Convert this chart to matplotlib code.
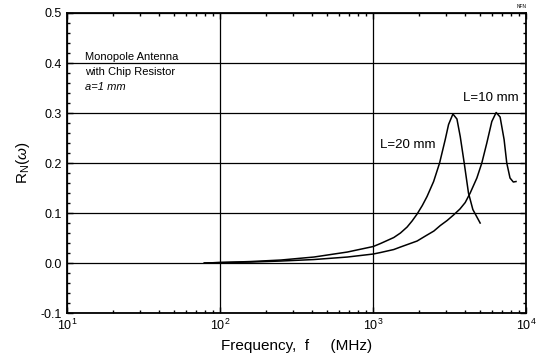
import matplotlib
matplotlib.use("Agg")
import matplotlib.pyplot as plt
from matplotlib.ticker import MultipleLocator, LogLocator, NullFormatter

plt.rcParams['font.family'] = ['Liberation Sans', 'DejaVu Sans']
plt.rcParams['mathtext.fontset'] = 'custom'
plt.rcParams['mathtext.rm'] = 'Liberation Sans'
plt.rcParams['mathtext.it'] = 'Liberation Sans:italic'

# Data (frequency in MHz, R_N)
f_L20 = [79, 100, 159, 250, 411, 680, 1003, 1119, 1367, 1511, 1671, 1800, 1942, 2100, 2255,
         2490, 2724, 2966, 3118, 3329, 3537, 3717, 3946, 4208, 4494, 5016]
r_L20 = [0.0, 0.001, 0.003, 0.006, 0.012, 0.022, 0.033, 0.039, 0.051, 0.060, 0.072, 0.084,
         0.098, 0.115, 0.133, 0.163, 0.200, 0.247, 0.277, 0.298, 0.288, 0.253, 0.200, 0.140,
         0.107, 0.080]

f_L10 = [79, 100, 159, 250, 411, 680, 1003, 1119, 1367, 1511, 1942, 2200, 2500, 2753, 3050,
         3358, 3700, 4006, 4317, 4774, 5143, 5545, 5978, 6381, 6772, 7192, 7487, 7863, 8264,
         8604]
r_L10 = [0.0, 0.001, 0.002, 0.004, 0.007, 0.012, 0.018, 0.021, 0.027, 0.032, 0.044, 0.054,
         0.064, 0.075, 0.085, 0.096, 0.108, 0.121, 0.140, 0.170, 0.200, 0.240, 0.283, 0.301,
         0.292, 0.247, 0.200, 0.170, 0.162, 0.163]

xlim = (10, 10000)
ylim = (-0.1, 0.5)
yticks = [-0.1, 0.0, 0.1, 0.2, 0.3, 0.4, 0.5]
ytick_labels = ['-0.1', '0.0', '0.1', '0.2', '0.3', '0.4', '0.5']
xticks = [10, 100, 1000, 10000]
xtick_labels = ['10$^1$', '10$^2$', '10$^3$', '10$^4$']

fig = plt.figure(figsize=(5.47, 3.64), dpi=100)
ax = fig.add_axes([0.1225, 0.14, 0.8391, 0.8243])

ax.plot(f_L20, r_L20, color='black', lw=1.1)
ax.plot(f_L10, r_L10, color='black', lw=1.1)

ax.set_xscale('log')
ax.set_xlim(*xlim)
ax.set_ylim(*ylim)
ax.set_xticks(xticks)
ax.set_xticklabels(xtick_labels)
ax.xaxis.set_minor_locator(LogLocator(base=10, subs=range(2, 10)))
ax.xaxis.set_minor_formatter(NullFormatter())
ax.set_yticks(yticks)
ax.set_yticklabels(ytick_labels)
ax.yaxis.set_minor_locator(MultipleLocator(0.02))

ax.grid(True, which='major', color='black', lw=0.9)
ax.tick_params(which='both', direction='in', top=True, right=True, labelsize=9, width=1)
ax.tick_params(which='major', length=4)
ax.tick_params(which='minor', length=2.5)
for s in ax.spines.values():
    s.set_linewidth(1.3)

ax.set_xlabel('Frequency,  f     (MHz)', fontsize=11, labelpad=4)
ax.set_ylabel(r'R$_\mathrm{N}$($\omega$)', fontsize=11, labelpad=6)

ax.text(0.04, 0.855, 'Monopole Antenna', transform=ax.transAxes, fontsize=8, va='center')
ax.text(0.04, 0.805, 'with Chip Resistor', transform=ax.transAxes, fontsize=8, va='center')
ax.text(0.04, 0.752, 'a=1 mm', transform=ax.transAxes, fontsize=8, va='center', style='italic')

ax.text(1110, 0.236, 'L=20 mm', fontsize=9.5, va='center')
ax.text(3900, 0.330, 'L=10 mm', fontsize=9.5, va='center')

fig.text(0.962, 0.982, 'NFN', fontsize=3.5, ha='right', va='center')

fig.savefig('out.png', dpi=100)
